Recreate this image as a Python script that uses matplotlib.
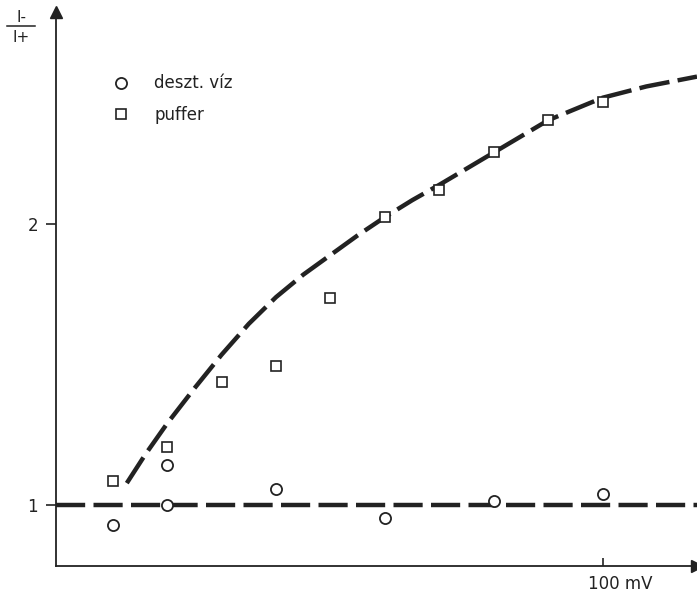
import numpy as np
import matplotlib
matplotlib.use('Agg')
import matplotlib.pyplot as plt
from matplotlib.lines import Line2D

plt.rcParams['font.family'] = ['DejaVu Sans']
plt.rcParams['lines.scale_dashes'] = False

# adatok
feszultseg = [10, 20, 30, 40, 50, 60, 70, 80, 90, 100]
puffer = [1.085, 1.206, 1.438, 1.495, 1.737, 2.025, 2.121, 2.256, 2.370, 2.434]

viz_x = [10, 20, 20, 40, 60, 80, 100]
viz_y = [0.929, 1.142, 1.0, 1.057, 0.954, 1.014, 1.039]

# kézzel húzott görbe a puffer pontokhoz
gorbe_x = [12.6, 16, 20, 25, 30, 35, 40, 45, 50, 55, 60, 65, 70, 80, 90, 100, 108, 117.3]
gorbe_y = [1.078, 1.18, 1.29, 1.415, 1.535, 1.645, 1.74, 1.82, 1.89, 1.96, 2.025,
           2.085, 2.14, 2.255, 2.37, 2.45, 2.49, 2.525]

szin = '#222222'

fig = plt.figure(figsize=(6.97, 5.96), dpi=100)
W, H = 697, 596
ax = fig.add_axes([56 / W, 30 / H, (697 - 56) / W, (566 - 12) / H])
ax.set_xlim(-0.4, 117.3)
ax.set_ylim(0.783, 2.755)

# görbék
ax.plot(gorbe_x, gorbe_y, color=szin, lw=3.2, dashes=(22, 6), dash_capstyle='butt')
ax.plot([-0.4, 117.3], [1, 1], color=szin, lw=3.2, dashes=(21, 6), dash_capstyle='butt')

# mérési pontok
ax.plot(viz_x, viz_y, 'o', ms=8, mfc='white', mec=szin, mew=1.3, zorder=5)
ax.plot(feszultseg, puffer, 's', ms=7.5, mfc='white', mec=szin, mew=1.2, zorder=5)

# tengelyek
for s in ['top', 'right']:
    ax.spines[s].set_visible(False)
for s in ['left', 'bottom']:
    ax.spines[s].set_color(szin)
    ax.spines[s].set_linewidth(1.3)
ax.plot(1, 0, '>', color=szin, ms=9, transform=ax.transAxes, clip_on=False)
ax.plot(0, 1, '^', color=szin, ms=9, transform=ax.transAxes, clip_on=False)

ax.set_yticks([1, 2])
ax.set_yticklabels(['1', '2'])
ax.tick_params(axis='y', direction='out', length=7, width=1.2, color=szin,
               labelsize=12, pad=6, labelcolor=szin)
ax.set_xticks([100])
ax.set_xticklabels([''])
ax.tick_params(axis='x', direction='in', length=6, width=1.2, color=szin)
ax.text(97.3, 0.75, '100 mV', fontsize=12, color=szin, ha='left', va='top')

# y tengely felirat
fig.text(21 / W, 1 - 17 / H, 'I-', fontsize=11, color=szin, ha='center', va='center')
fig.text(21 / W, 1 - 38 / H, 'I+', fontsize=11, color=szin, ha='center', va='center')
fig.add_artist(Line2D([7 / W, 35 / W], [1 - 26 / H, 1 - 26 / H], color=szin, lw=1.1))

# jelmagyarázat
kezek = [Line2D([], [], marker='o', ls='none', ms=8, mfc='white', mec=szin, mew=1.3),
         Line2D([], [], marker='s', ls='none', ms=7.5, mfc='white', mec=szin, mew=1.2)]
ax.legend(kezek, ['deszt. víz', 'puffer'], loc='upper left', frameon=False,
          bbox_to_anchor=(96 / W, 1 - 66 / H), bbox_transform=fig.transFigure,
          fontsize=12, handletextpad=1.0, labelspacing=0.8, borderpad=0,
          labelcolor=szin)

fig.savefig('out.png', dpi=100)
